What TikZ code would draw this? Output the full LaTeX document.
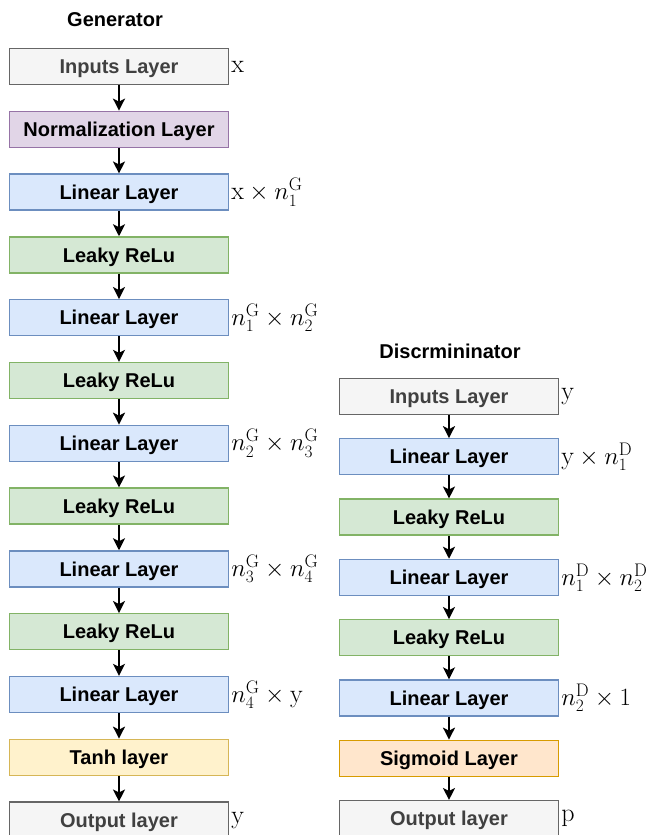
\documentclass[tikz,border=0pt]{standalone}
\usepackage{amsmath}
\usepackage{xcolor}
\usepackage{fontspec}
\usepackage{tikz}
\usetikzlibrary{arrows.meta, positioning}

\newfontfamily\boxfont{Liberation Sans}

\definecolor{grayfill}{HTML}{F5F5F5}
\definecolor{graydraw}{HTML}{666666}
\definecolor{graytext}{HTML}{404040}
\definecolor{normfill}{HTML}{E1D5E7}
\definecolor{normdraw}{HTML}{9673A6}
\definecolor{linfill}{HTML}{DAE8FC}
\definecolor{lindraw}{HTML}{6C8EBF}
\definecolor{actfill}{HTML}{D5E8D4}
\definecolor{actdraw}{HTML}{82B366}
\definecolor{tanhfill}{HTML}{FFF2CC}
\definecolor{tanhdraw}{HTML}{D6B656}
\definecolor{sigfill}{HTML}{FFE6CC}
\definecolor{sigdraw}{HTML}{D79B00}

\begin{document}
\begin{tikzpicture}[
    x=1pt, y=-1pt,
    node distance=25.5pt,
    box/.style={rectangle, draw, line width=1.3pt, minimum width=219pt, minimum height=36pt,
        text height=16pt, text depth=1.7pt,
        font=\boxfont\bfseries\fontsize{20}{22}\selectfont},
    iobox/.style={box, fill=grayfill, draw=graydraw, text=graytext},
    normbox/.style={box, fill=normfill, draw=normdraw},
    linbox/.style={box, fill=linfill, draw=lindraw},
    actbox/.style={box, fill=actfill, draw=actdraw},
    tanhbox/.style={box, fill=tanhfill, draw=tanhdraw},
    sigbox/.style={box, fill=sigfill, draw=sigdraw},
    dims/.style={anchor=west, inner sep=2pt, font=\fontsize{26}{30}\selectfont},
    title/.style={font=\boxfont\bfseries\fontsize{20}{22}\selectfont},
    arrow/.style={-{Stealth[length=12pt, width=12pt, inset=3pt]}, line width=1.8pt}
]
\useasboundingbox (0,0) rectangle (645,835);

% generator
\node[title] (gtitle) at (115,20) {Generator};
\node[iobox] (gin) at (119,66.5) {Inputs Layer};
\node[normbox, below=of gin] (gnorm) {Normalization Layer};
\node[linbox, below=of gnorm] (glin1) {Linear Layer};
\node[actbox, below=of glin1] (gact1) {Leaky ReLu};
\node[linbox, below=of gact1] (glin2) {Linear Layer};
\node[actbox, below=of glin2] (gact2) {Leaky ReLu};
\node[linbox, below=of gact2] (glin3) {Linear Layer};
\node[actbox, below=of glin3] (gact3) {Leaky ReLu};
\node[linbox, below=of gact3] (glin4) {Linear Layer};
\node[actbox, below=of glin4] (gact4) {Leaky ReLu};
\node[linbox, below=of gact4] (glin5) {Linear Layer};
\node[tanhbox, below=of glin5] (gtanh) {Tanh layer};
\node[iobox, below=of gtanh] (gout) {Output layer};

\node[dims] (ginl) at (gin.east) {$\mathrm{x}$};
\node[dims] (glin1l) at (glin1.east) {$\mathrm{x}\times n_1^{\mathrm{G}}$};
\node[dims] (glin2l) at (glin2.east) {$n_1^{\mathrm{G}}\times n_2^{\mathrm{G}}$};
\node[dims] (glin3l) at (glin3.east) {$n_2^{\mathrm{G}}\times n_3^{\mathrm{G}}$};
\node[dims] (glin4l) at (glin4.east) {$n_3^{\mathrm{G}}\times n_4^{\mathrm{G}}$};
\node[dims] (glin5l) at (glin5.east) {$n_4^{\mathrm{G}}\times \mathrm{y}$};
\node[dims] (goutl) at (gout.east) {$\mathrm{y}$};

\draw[arrow] (gin) -- (gnorm);
\draw[arrow] (gnorm) -- (glin1);
\draw[arrow] (glin1) -- (gact1);
\draw[arrow] (gact1) -- (glin2);
\draw[arrow] (glin2) -- (gact2);
\draw[arrow] (gact2) -- (glin3);
\draw[arrow] (glin3) -- (gact3);
\draw[arrow] (gact3) -- (glin4);
\draw[arrow] (glin4) -- (gact4);
\draw[arrow] (gact4) -- (glin5);
\draw[arrow] (glin5) -- (gtanh);
\draw[arrow] (gtanh) -- (gout);

% discriminator
\node[title] (dtitle) at (450,351) {Discrmininator};
\node[iobox] (din) at (449,396.5) {Inputs Layer};
\node[linbox, below=23pt of din] (dlin1) {Linear Layer};
\node[actbox, below=23pt of dlin1] (dact1) {Leaky ReLu};
\node[linbox, below=23pt of dact1] (dlin2) {Linear Layer};
\node[actbox, below=23pt of dlin2] (dact2) {Leaky ReLu};
\node[linbox, below=23pt of dact2] (dlin3) {Linear Layer};
\node[sigbox, below=23pt of dlin3] (dsig) {Sigmoid Layer};
\node[iobox, below=23pt of dsig] (dout) {Output layer};

\node[dims] (dinl) at (din.east) {$\mathrm{y}$};
\node[dims] (dlin1l) at (dlin1.east) {$\mathrm{y}\times n_1^{\mathrm{D}}$};
\node[dims] (dlin2l) at (dlin2.east) {$n_1^{\mathrm{D}}\times n_2^{\mathrm{D}}$};
\node[dims] (dlin3l) at (dlin3.east) {$n_2^{\mathrm{D}}\times 1$};
\node[dims] (doutl) at (dout.east) {$\mathrm{p}$};

\draw[arrow] (din) -- (dlin1);
\draw[arrow] (dlin1) -- (dact1);
\draw[arrow] (dact1) -- (dlin2);
\draw[arrow] (dlin2) -- (dact2);
\draw[arrow] (dact2) -- (dlin3);
\draw[arrow] (dlin3) -- (dsig);
\draw[arrow] (dsig) -- (dout);
\end{tikzpicture}
\end{document}
